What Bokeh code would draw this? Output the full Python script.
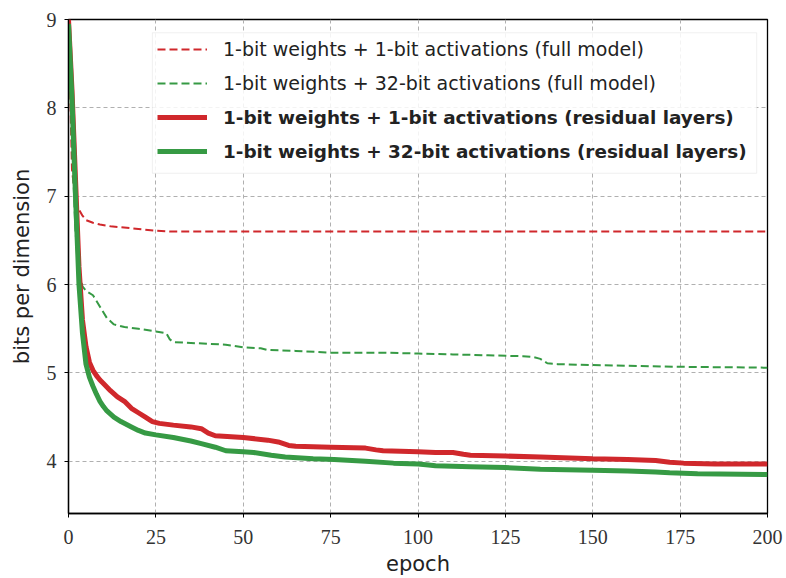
from bokeh.plotting import figure
from bokeh.models import Legend, LegendItem, BoxAnnotation, Range1d, FixedTicker
from bokeh.embed import file_html
from bokeh.resources import INLINE

# ---- data ----
x_full_1bit = [0, 1, 2, 3, 4, 5, 7, 9, 12, 15, 20, 25, 30, 50, 100, 150, 200]
y_full_1bit = [9.0, 7.3, 6.95, 6.85, 6.78, 6.73, 6.70, 6.68, 6.66, 6.65, 6.63, 6.61, 6.60, 6.60, 6.60, 6.60, 6.60]

x_full_32bit = [0, 1, 2, 3, 4, 5, 7, 9, 11, 13, 16, 20, 25, 28, 29, 30, 40, 45, 50, 55, 57, 65, 75, 90,
                100, 110, 120, 130, 133, 135, 137, 140, 150, 175, 200]
y_full_32bit = [9.0, 7.6, 6.6, 6.15, 5.98, 5.93, 5.88, 5.75, 5.62, 5.55, 5.52, 5.50, 5.47, 5.45, 5.38, 5.35,
                5.33, 5.32, 5.29, 5.28, 5.26, 5.25, 5.23, 5.23, 5.22, 5.21, 5.20, 5.19, 5.18, 5.16, 5.11, 5.10,
                5.09, 5.07, 5.06]

x_res_1bit = [0, 1, 2, 3, 4, 5, 6, 7, 8, 9, 10, 12, 14, 16, 18, 20, 22, 24, 26, 30, 35, 38, 40, 42, 50, 57,
              60, 63, 65, 75, 85, 88, 90, 100, 105, 110, 113, 115, 125, 135, 150, 160, 168, 172, 176, 185, 200]
y_res_1bit = [9.0, 8.2, 7.2, 6.2, 5.6, 5.3, 5.12, 5.03, 4.97, 4.92, 4.88, 4.80, 4.73, 4.68, 4.60, 4.55, 4.50,
              4.45, 4.43, 4.41, 4.39, 4.37, 4.32, 4.29, 4.27, 4.24, 4.22, 4.18, 4.17, 4.16, 4.15, 4.13, 4.12,
              4.11, 4.10, 4.10, 4.08, 4.07, 4.06, 4.05, 4.03, 4.02, 4.01, 3.99, 3.98, 3.97, 3.97]

x_res_32bit = [0, 1, 2, 3, 4, 5, 6, 7, 8, 9, 10, 11, 13, 15, 18, 20, 22, 25, 30, 35, 38, 42, 45, 50, 53, 58,
               62, 70, 76, 85, 93, 100, 103, 105, 115, 125, 135, 150, 160, 168, 172, 180, 200]
y_res_32bit = [8.95, 8.1, 7.0, 6.0, 5.45, 5.1, 4.95, 4.85, 4.76, 4.68, 4.62, 4.57, 4.50, 4.45, 4.39, 4.35,
               4.32, 4.30, 4.27, 4.23, 4.20, 4.16, 4.12, 4.11, 4.10, 4.07, 4.05, 4.03, 4.02, 4.00, 3.98, 3.97,
               3.96, 3.95, 3.94, 3.93, 3.91, 3.90, 3.89, 3.88, 3.87, 3.86, 3.85]

x_ticks = [0, 25, 50, 75, 100, 125, 150, 175, 200]
y_ticks = [4, 5, 6, 7, 8, 9]

labels_normal = ["1-bit weights + 1-bit activations (full model)",
                 "1-bit weights + 32-bit activations (full model)"]
labels_bold = ["1-bit weights + 1-bit activations (residual layers)",
               "1-bit weights + 32-bit activations (residual layers)"]

RED = "#d0282c"
GREEN = "#369a44"
SANS = "DejaVu Sans"

p = figure(width=786, height=578, output_backend="svg", toolbar_location=None,
           x_range=Range1d(0, 200), y_range=Range1d(3.41, 9.0),
           min_border_left=68, min_border_right=19, min_border_top=19, min_border_bottom=65)

p.outline_line_color = "black"
p.outline_line_width = 1.3
p.outline_line_alpha = 1.0

for ax in (p.xaxis[0], p.yaxis[0]):
    ax.axis_line_color = "black"
    ax.axis_line_width = 1.3
    ax.major_tick_out = 4
    ax.major_tick_in = 0
    ax.minor_tick_out = 0
    ax.minor_tick_in = 0
    ax.major_tick_line_color = "black"
    ax.major_label_text_font = "Liberation Serif"
    ax.major_label_text_font_size = "20px"
    ax.major_label_text_color = "#333333"
    ax.axis_label_text_font = SANS
    ax.axis_label_text_font_size = "21px"
    ax.axis_label_text_font_style = "normal"
    ax.axis_label_text_color = "#222222"

p.xaxis.ticker = FixedTicker(ticks=x_ticks)
p.yaxis.ticker = FixedTicker(ticks=y_ticks)
p.xaxis.axis_label = "epoch"
p.yaxis.axis_label = "bits per dimension"
p.xaxis.major_label_standoff = 12
p.yaxis.major_label_standoff = 8
p.xaxis.axis_label_standoff = 5
p.yaxis.axis_label_standoff = 10

p.xgrid.grid_line_color = "#b0b0b0"
p.ygrid.grid_line_color = "#b0b0b0"
p.xgrid.grid_line_dash = "4 3"
p.ygrid.grid_line_dash = "4 3"
p.xgrid.grid_line_width = 1
p.ygrid.grid_line_width = 1

r1 = p.line(x_full_1bit, y_full_1bit, line_color=RED, line_width=2, line_dash="8 4")
r2 = p.line(x_full_32bit, y_full_32bit, line_color=GREEN, line_width=2, line_dash="8 4")
r3 = p.line(x_res_1bit, y_res_1bit, line_color=RED, line_width=5)
r4 = p.line(x_res_32bit, y_res_32bit, line_color=GREEN, line_width=5)

box = BoxAnnotation(left=24.0, right=196.9, top=8.85, bottom=7.26,
                    fill_color="white", fill_alpha=0.85,
                    line_color="#cccccc", line_width=1)
p.add_layout(box)


def make_legend(items, style, size, loc, h):
    lg = Legend(items=items, location=loc, orientation="vertical")
    lg.label_text_font = SANS
    lg.label_text_font_size = size
    lg.label_text_font_style = style
    lg.label_text_color = "#222222"
    lg.glyph_width = 50
    lg.glyph_height = h
    lg.label_height = h
    lg.label_standoff = 16
    lg.spacing = 0
    lg.padding = 0
    lg.margin = 0
    lg.background_fill_alpha = 0
    lg.border_line_alpha = 0
    return lg


leg1 = make_legend([LegendItem(label=labels_normal[0], renderers=[r1]),
                    LegendItem(label=labels_normal[1], renderers=[r2])], "normal", "19px", (89, 413), 34)
leg2 = make_legend([LegendItem(label=labels_bold[0], renderers=[r3]),
                    LegendItem(label=labels_bold[1], renderers=[r4])], "bold", "18.4px", (89, 345), 34)
p.add_layout(leg1, "center")
p.add_layout(leg2, "center")

open("out.html", "w").write(file_html(p, INLINE))
